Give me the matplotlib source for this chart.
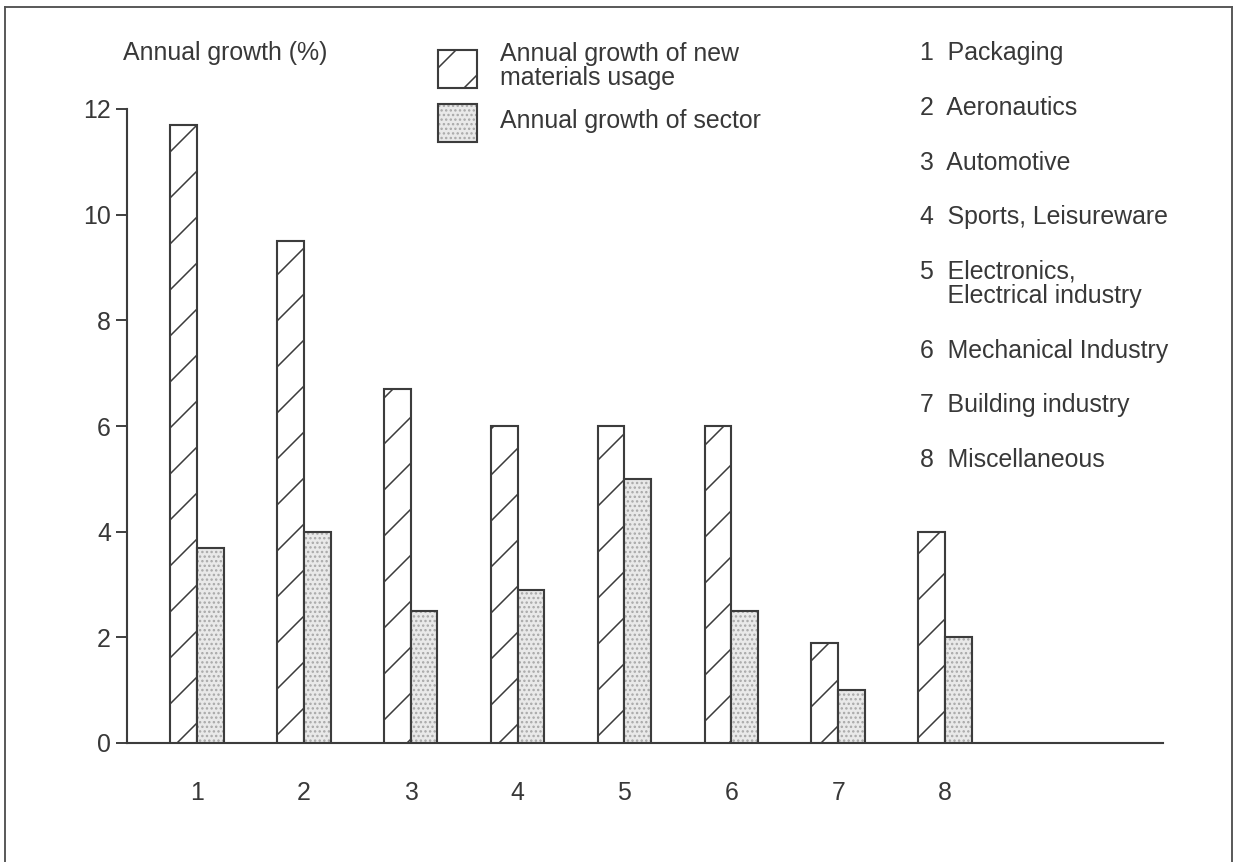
import matplotlib
matplotlib.use("Agg")
import matplotlib.pyplot as plt
from matplotlib.patches import Rectangle
from matplotlib.lines import Line2D

# ---- data ----
categories = ["1", "2", "3", "4", "5", "6", "7", "8"]
new_materials_growth = [11.7, 9.5, 6.7, 6.0, 6.0, 6.0, 1.9, 4.0]
sector_growth = [3.7, 4.0, 2.5, 2.9, 5.0, 2.5, 1.0, 2.0]
y_ticks = [0, 2, 4, 6, 8, 10, 12]
sector_names = ["1  Packaging", "2  Aeronautics", "3  Automotive",
                "4  Sports, Leisureware", "5  Electronics,\n    Electrical industry",
                "6  Mechanical Industry", "7  Building industry", "8  Miscellaneous"]
legend_labels = ["Annual growth of new\nmaterials usage", "Annual growth of sector"]
y_label = "Annual growth (%)"

W, H = 1237, 862
DPI = 138
plt.rcParams['font.family'] = ['Liberation Sans', 'DejaVu Sans']
plt.rcParams['hatch.linewidth'] = 0.8
LC = '#3c3c3c'
TC = '#383838'
FS = 13.0

fig = plt.figure(figsize=(W / DPI, H / DPI), dpi=DPI)
fig.patch.set_facecolor('white')

def fx(x):
    return x / W

def fy(y):
    return 1 - y / H

# axes placement (pixel geometry)
ax_l, ax_r, ax_t, ax_b = 127, 1163, 109, 743
ax = fig.add_axes([fx(ax_l), fy(ax_b), fx(ax_r - ax_l), (ax_b - ax_t) / H])
ax.set_xlim(0.345, 10.04)
ax.set_ylim(0, 12)

xs = list(range(1, len(categories) + 1))
bw = 0.25
# hatched bars
ax.bar([x - bw / 2 for x in xs], new_materials_growth, width=bw,
       facecolor='white', edgecolor=LC, hatch='/', linewidth=1.1, zorder=3)
# stippled bars: dots then outline
ax.bar([x + bw / 2 for x in xs], sector_growth, width=bw,
       facecolor='#e9e9e9', edgecolor='#a8a8a8', hatch='.....', linewidth=0, zorder=3)
ax.bar([x + bw / 2 for x in xs], sector_growth, width=bw,
       facecolor='none', edgecolor=LC, linewidth=1.1, zorder=4)

for s in ['top', 'right']:
    ax.spines[s].set_visible(False)
for s in ['left', 'bottom']:
    ax.spines[s].set_color(LC)
    ax.spines[s].set_linewidth(1.1)
ax.spines['left'].set_zorder(5)

ax.set_yticks(y_ticks)
ax.set_yticklabels([str(t) for t in y_ticks])
ax.tick_params(axis='y', direction='out', length=5.8, width=1.0, color=LC,
               labelsize=FS, labelcolor=TC, pad=2.5)
ax.set_xticks(xs)
ax.set_xticklabels(categories)
ax.tick_params(axis='x', length=0, labelsize=FS, labelcolor=TC, pad=20)

# y label at top
fig.text(fx(123), fy(53), y_label, fontsize=FS, color=TC, ha='left', va='center')

# legend (manual)
box_x, box_w = 438, 39
r1 = Rectangle((fx(box_x), fy(88)), fx(box_w), 38 / H, transform=fig.transFigure,
               facecolor='white', edgecolor=LC, hatch='/', linewidth=1.1)
fig.add_artist(r1)
r2a = Rectangle((fx(box_x), fy(142)), fx(box_w), 38 / H, transform=fig.transFigure,
                facecolor='#e9e9e9', edgecolor='#a8a8a8', hatch='.....', linewidth=0)
fig.add_artist(r2a)
r2b = Rectangle((fx(box_x), fy(142)), fx(box_w), 38 / H, transform=fig.transFigure,
                facecolor='none', edgecolor=LC, linewidth=1.1)
fig.add_artist(r2b)
fig.text(fx(500), fy(66), legend_labels[0], fontsize=FS, color=TC, ha='left',
         va='center', linespacing=1.05)
fig.text(fx(500), fy(121), legend_labels[1], fontsize=FS, color=TC, ha='left', va='center')

# sector list on right
list_y = [53, 108, 163, 217, 271, 351, 405, 460]
for name, yy in zip(sector_names, list_y):
    if '\n' in name:
        fig.text(fx(920), fy(yy - 12), name, fontsize=FS, color=TC, ha='left', va='top',
                 linespacing=1.05)
    else:
        fig.text(fx(920), fy(yy), name, fontsize=FS, color=TC, ha='left', va='center')

# outer frame
fr = dict(color='#555555', linewidth=1.0, transform=fig.transFigure)
fig.add_artist(Line2D([fx(5), fx(1232)], [fy(7), fy(7)], **fr))
fig.add_artist(Line2D([fx(5), fx(5)], [fy(7), fy(862)], **fr))
fig.add_artist(Line2D([fx(1232), fx(1232)], [fy(7), fy(862)], **fr))

fig.savefig("out.png", dpi=DPI, facecolor='white')
